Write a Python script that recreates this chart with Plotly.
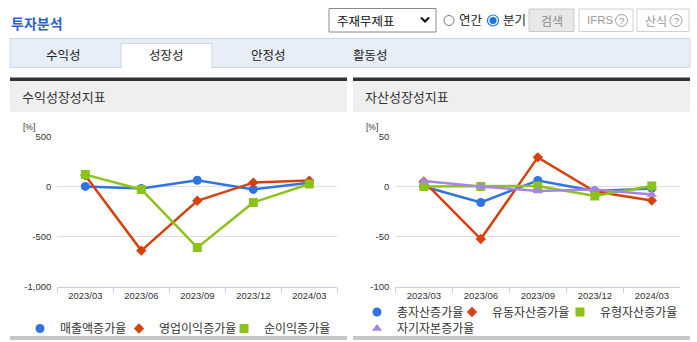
import plotly.graph_objects as go

W, H = 697, 342
KR = "Noto Sans CJK KR"
NUM = "Liberation Sans"

# ---------------- data ----------------
categories = ["2023/03", "2023/06", "2023/09", "2023/12", "2024/03"]

# 수익성장성지표 [%]
sales_growth = [0, -20, 62, -30, 36]            # 매출액증가율
op_profit_growth = [110, -640, -143, 38, 58]    # 영업이익증가율
net_profit_growth = [118, -30, -610, -160, 24]  # 순이익증가율

# 자산성장성지표 [%]
total_asset_growth = [0, -16, 6, -4.5, -2]       # 총자산증가율
current_asset_growth = [5, -52.5, 29, -5, -14]   # 유동자산증가율
tangible_asset_growth = [0, 0, 0.5, -9.5, 0.5]   # 유형자산증가율
equity_growth = [5.5, 0, -4.5, -3, -8]           # 자기자본증가율

left_ticks = [-1000, -500, 0, 500]
left_ticktext = ["-1,000", "-500", "0", "500"]
right_ticks = [-100, -50, 0, 50]
right_ticktext = ["-100", "-50", "0", "50"]

BLUE = "#2f74e2"
RED = "#d6420e"
GREEN = "#8cc31a"
PURPLE = "#a786e0"


def px(x):
    return x / W


def py(y):
    return 1 - y / H


fig = go.Figure()


def add(x, y, name, color, symbol, size, xa, ya, legend):
    fig.add_trace(go.Scatter(
        x=x, y=y, name=name, mode="lines", showlegend=False,
        line=dict(color=color, width=2.5),
        xaxis=xa, yaxis=ya, hoverinfo="skip",
    ))
    fig.add_trace(go.Scatter(
        x=x, y=y, name=name, mode="markers", showlegend=True,
        marker=dict(color=color, symbol=symbol, size=size),
        xaxis=xa, yaxis=ya, legend=legend, hoverinfo="skip",
    ))


add(categories, sales_growth, "매출액증가율", BLUE, "circle", 9, "x", "y", "legend")
add(categories, op_profit_growth, "영업이익증가율", RED, "diamond", 8, "x", "y", "legend2")
add(categories, net_profit_growth, "순이익증가율", GREEN, "square", 9, "x", "y", "legend3")

add(categories, total_asset_growth, "총자산증가율", BLUE, "circle", 9, "x2", "y2", "legend4")
add(categories, current_asset_growth, "유동자산증가율", RED, "diamond", 8, "x2", "y2", "legend5")
add(categories, tangible_asset_growth, "유형자산증가율", GREEN, "square", 9, "x2", "y2", "legend6")
add(categories, equity_growth, "자기자본증가율", PURPLE, "triangle-up", 9, "x2", "y2", "legend7")

AX = "#c7d2e2"
GRID = "#dedede"

xcommon = dict(type="category", range=[-0.5, 4.5], showline=True, linecolor=AX, linewidth=1,
               ticks="outside", ticklen=5, tickcolor=AX, tickson="boundaries",
               showgrid=False, zeroline=False, fixedrange=True,
               tickfont=dict(family=NUM, size=9.5, color="#333"))
ycommon = dict(showline=False, showgrid=True, gridcolor=GRID, gridwidth=1, zeroline=False,
               ticks="", fixedrange=True, ticklabelstandoff=5,
               tickfont=dict(family=NUM, size=9.5, color="#333"))

y_bot, y_top = py(286.7), py(136.3)


def leg(marker_x, y):
    return dict(orientation="h", xanchor="left", yanchor="middle",
                x=px(marker_x - 20), y=py(y),
                font=dict(family=KR, size=12, color="#333"),
                bgcolor="rgba(0,0,0,0)", borderwidth=0, itemclick=False,
                itemdoubleclick=False)


fig.update_layout(
    width=W, height=H, margin=dict(l=0, r=0, t=0, b=0, autoexpand=False),
    paper_bgcolor="white", plot_bgcolor="white",
    font=dict(family=KR, color="#333"),
    showlegend=True,
    xaxis=dict(domain=[px(57.3), px(337.3)], anchor="y", **xcommon),
    yaxis=dict(domain=[y_bot, y_top], anchor="x", range=[-1000, 500],
               tickvals=left_ticks, ticktext=left_ticktext, **ycommon),
    xaxis2=dict(domain=[px(395.3), px(680.3)], anchor="y2", **xcommon),
    yaxis2=dict(domain=[y_bot, y_top], anchor="x2", range=[-100, 50],
                tickvals=right_ticks, ticktext=right_ticktext, **ycommon),
    legend=leg(40, 328.5),
    legend2=leg(139, 328.5),
    legend3=leg(244, 328.5),
    legend4=leg(377, 312),
    legend5=leg(472, 312),
    legend6=leg(580, 312),
    legend7=leg(377, 328.5),
)

shapes = []
ann = []


def rect(x0, y0, x1, y1, fill=None, line=None, lw=1):
    shapes.append(dict(type="rect", xref="paper", yref="paper",
                       x0=px(x0), x1=px(x1), y0=py(y1), y1=py(y0),
                       fillcolor=fill or "rgba(0,0,0,0)",
                       line=dict(color=line or "rgba(0,0,0,0)", width=lw if line else 0),
                       layer="below"))


def circle(cx, cy, r, fill=None, line=None, lw=1):
    shapes.append(dict(type="circle", xref="paper", yref="paper",
                       x0=px(cx - r), x1=px(cx + r), y0=py(cy + r), y1=py(cy - r),
                       fillcolor=fill or "rgba(0,0,0,0)",
                       line=dict(color=line or "rgba(0,0,0,0)", width=lw if line else 0)))


def text(x, y, s, size=12, color="#333", anchor="left", family=KR, bold=False):
    ann.append(dict(xref="paper", yref="paper", x=px(x), y=py(y), text=("<b>%s</b>" % s) if bold else s,
                    showarrow=False, xanchor=anchor, yanchor="middle",
                    font=dict(family=family, size=size, color=color)))


# header
text(9, 23, "투자분석", size=14, color="#3060d8", bold=True)

# select box
rect(329, 8.5, 436, 32, fill="white", line="#8a8a8a")
text(335, 20, "주재무제표", size=12.5, color="#111")
shapes.append(dict(type="path", xref="paper", yref="paper",
                   path="M %f %f L %f %f L %f %f" % (px(421), py(17.5), px(425), py(21.5), px(429), py(17.5)),
                   line=dict(color="#111", width=2)))

# radios
circle(449, 20.5, 5, fill="white", line="#777")
text(457, 19.5, "연간", size=12.5, color="#222")
circle(493, 20.5, 5.5, fill="white", line="#1a73e8", lw=1.2)
circle(493, 20.5, 3.5, fill="#1a73e8")
text(501, 19.5, "분기", size=12.5, color="#222")

# buttons
rect(529, 9, 574, 31.5, fill="#e8e8e8", line="#c9c9c9")
text(551.5, 20, "검색", size=12, color="#8a8a8a", anchor="center")
rect(579, 9, 633, 31.5, fill="white", line="#d0d0d0")
text(585, 20, "IFRS", size=11.5, color="#9a9a9a", family=NUM)
circle(621.5, 20.5, 6, fill="white", line="#a0a0a0")
text(621.5, 20.5, "?", size=9.5, color="#8a8a8a", anchor="center", family=NUM)
rect(637, 9, 689, 31.5, fill="white", line="#d0d0d0")
text(643, 20, "산식", size=12, color="#9a9a9a")
circle(676, 20.5, 6, fill="white", line="#a0a0a0")
text(676, 20.5, "?", size=9.5, color="#8a8a8a", anchor="center", family=NUM)

# tab bar
rect(10, 38.5, 690, 67.5, fill="#e8eef8", line="#ccd6e5")
rect(121, 43.5, 212, 68, fill="white", line="#ccd6e5")
rect(122, 66, 211, 69, fill="white")
text(63, 54, "수익성", size=12.5, color="#222", anchor="center")
text(166.5, 54, "성장성", size=12.5, color="#222", anchor="center")
text(268, 54, "안정성", size=12.5, color="#222", anchor="center")
text(370, 54, "활동성", size=12.5, color="#222", anchor="center")

# panels
for x0, x1, title in [(10, 347, "수익성장성지표"), (353, 690, "자산성장성지표")]:
    rect(x0, 77.5, x1, 81, fill="#333333")
    rect(x0, 81, x1, 110.5, fill="#efefef")
    rect(x0, 110.5, x1, 111.5, fill="#e2e2e2")
    rect(x0, 336, x1, 340, fill="#c6c6c6")
    text(x0 + 10, 96, title, size=13, color="#333")

text(21, 126.5, "[%]", size=8.5, color="#333", family=NUM)
text(364, 126.5, "[%]", size=8.5, color="#333", family=NUM)

fig.update_layout(shapes=shapes, annotations=ann)

fig.write_html("out.html", config={"displayModeBar": False})
